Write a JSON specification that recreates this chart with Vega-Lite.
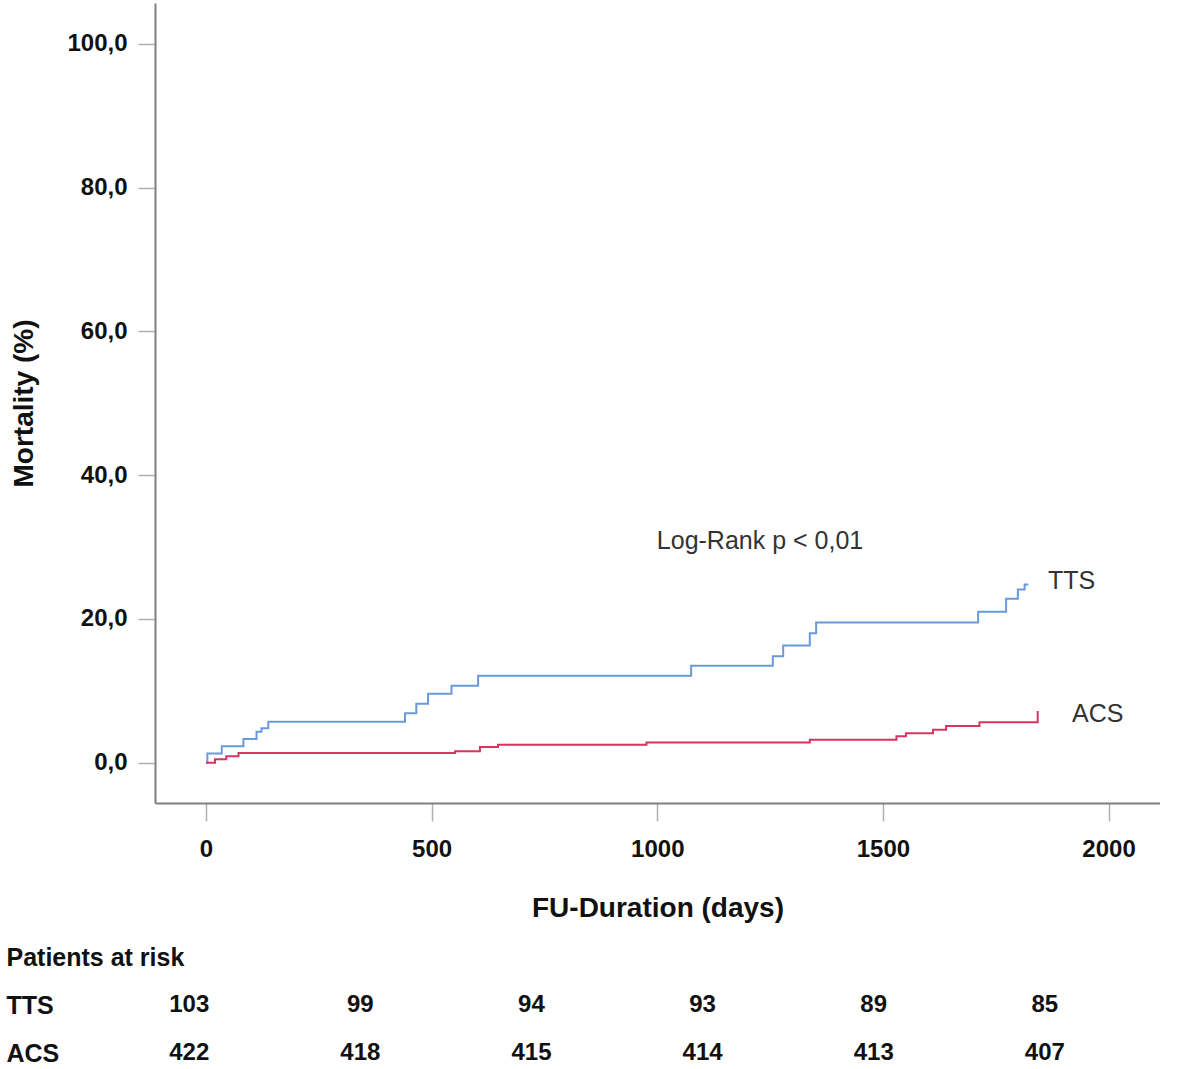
{
  "$schema": "https://vega.github.io/schema/vega-lite/v6.json",
  "padding": {"left": 6, "top": 3, "right": 0, "bottom": 0},
  "autosize": {"type": "pad"},
  "spacing": 11,
  "config": {
    "view": {"stroke": null},
    "font": "Liberation Sans",
    "locale": {"number": {"decimal": ",", "thousands": ".", "grouping": [3], "currency": ["", " €"]}},
    "axis": {
      "domainColor": "#808080",
      "domainWidth": 2,
      "tickColor": "#b0b0b0",
      "tickWidth": 1.5,
      "grid": false,
      "labelFont": "Liberation Sans",
      "labelFontWeight": "bold",
      "labelFontSize": 24,
      "labelColor": "#111111",
      "titleFont": "Liberation Sans",
      "titleFontWeight": "bold",
      "titleFontSize": 28,
      "titleColor": "#111111"
    }
  },
  "vconcat": [
    {
      "width": 1005,
      "height": 800,
      "layer": [
        {
          "data": {
            "values": [
              {"group": "TTS", "day": 0, "mortality": 0},
              {"group": "TTS", "day": 3, "mortality": 1.3},
              {"group": "TTS", "day": 35, "mortality": 2.3},
              {"group": "TTS", "day": 83, "mortality": 3.3},
              {"group": "TTS", "day": 112, "mortality": 4.3},
              {"group": "TTS", "day": 123, "mortality": 4.8},
              {"group": "TTS", "day": 138, "mortality": 5.7},
              {"group": "TTS", "day": 441, "mortality": 6.9},
              {"group": "TTS", "day": 466, "mortality": 8.2},
              {"group": "TTS", "day": 492, "mortality": 9.6},
              {"group": "TTS", "day": 544, "mortality": 10.7},
              {"group": "TTS", "day": 603, "mortality": 12.1},
              {"group": "TTS", "day": 1075, "mortality": 13.5},
              {"group": "TTS", "day": 1256, "mortality": 14.8},
              {"group": "TTS", "day": 1279, "mortality": 16.3},
              {"group": "TTS", "day": 1338, "mortality": 18.0},
              {"group": "TTS", "day": 1352, "mortality": 19.5},
              {"group": "TTS", "day": 1711, "mortality": 21.0},
              {"group": "TTS", "day": 1773, "mortality": 22.8},
              {"group": "TTS", "day": 1799, "mortality": 24.1},
              {"group": "TTS", "day": 1814, "mortality": 24.8},
              {"group": "TTS", "day": 1822, "mortality": 24.8},
              {"group": "ACS", "day": 0, "mortality": 0},
              {"group": "ACS", "day": 20, "mortality": 0.5},
              {"group": "ACS", "day": 45, "mortality": 0.9},
              {"group": "ACS", "day": 72, "mortality": 1.35},
              {"group": "ACS", "day": 552, "mortality": 1.6},
              {"group": "ACS", "day": 607, "mortality": 2.2},
              {"group": "ACS", "day": 647, "mortality": 2.5},
              {"group": "ACS", "day": 976, "mortality": 2.8},
              {"group": "ACS", "day": 1338, "mortality": 3.2},
              {"group": "ACS", "day": 1530, "mortality": 3.7},
              {"group": "ACS", "day": 1551, "mortality": 4.1},
              {"group": "ACS", "day": 1611, "mortality": 4.6},
              {"group": "ACS", "day": 1640, "mortality": 5.1},
              {"group": "ACS", "day": 1714, "mortality": 5.65},
              {"group": "ACS", "day": 1843, "mortality": 7.2}
            ]
          },
          "mark": {"type": "line", "interpolate": "step-after", "strokeWidth": 2},
          "encoding": {
            "x": {
              "field": "day",
              "type": "quantitative",
              "scale": {"domain": [-113, 2114], "nice": false, "zero": false},
              "axis": {
                "title": "FU-Duration (days)",
                "values": [0, 500, 1000, 1500, 2000],
                "format": "d",
                "tickSize": 18,
                "labelPadding": 16,
                "titlePadding": 33
              }
            },
            "y": {
              "field": "mortality",
              "type": "quantitative",
              "scale": {"domain": [-5.6, 105.7], "nice": false, "zero": false},
              "axis": {
                "title": "Mortality (%)",
                "values": [0, 20, 40, 60, 80, 100],
                "format": ".1f",
                "tickSize": 17,
                "labelPadding": 11,
                "titlePadding": 28
              }
            },
            "color": {
              "field": "group",
              "type": "nominal",
              "scale": {"domain": ["TTS", "ACS"], "range": ["#6a9ad9", "#d9335e"]},
              "legend": null
            }
          }
        },
        {
          "data": {
            "values": [
              {"day": 999, "mortality": 30.8, "label": "Log-Rank p < 0,01"},
              {"day": 1866, "mortality": 25.3, "label": "TTS"},
              {"day": 1919, "mortality": 6.8, "label": "ACS"}
            ]
          },
          "mark": {"type": "text", "fontSize": 25, "font": "Liberation Sans", "color": "#333333", "align": "left", "baseline": "middle"},
          "encoding": {
            "x": {"field": "day", "type": "quantitative"},
            "y": {"field": "mortality", "type": "quantitative"},
            "text": {"field": "label"}
          }
        }
      ]
    },
    {
      "width": 1005,
      "height": 144,
      "data": {
        "values": [
          {"row": "TTS", "year": 0, "n": 103},
          {"row": "TTS", "year": 1, "n": 99},
          {"row": "TTS", "year": 2, "n": 94},
          {"row": "TTS", "year": 3, "n": 93},
          {"row": "TTS", "year": 4, "n": 89},
          {"row": "TTS", "year": 5, "n": 85},
          {"row": "ACS", "year": 0, "n": 422},
          {"row": "ACS", "year": 1, "n": 418},
          {"row": "ACS", "year": 2, "n": 415},
          {"row": "ACS", "year": 3, "n": 414},
          {"row": "ACS", "year": 4, "n": 413},
          {"row": "ACS", "year": 5, "n": 407}
        ]
      },
      "mark": {"type": "text", "fontSize": 24, "fontWeight": "bold", "font": "Liberation Sans", "color": "#111111", "baseline": "middle"},
      "encoding": {
        "x": {
          "field": "year",
          "type": "quantitative",
          "scale": {"domain": [-0.2, 5.673], "nice": false, "zero": false},
          "axis": null
        },
        "y": {
          "field": "row",
          "type": "ordinal",
          "scale": {"domain": ["Patients at risk", "TTS", "ACS"], "type": "point", "padding": 0.5},
          "axis": {
            "title": null,
            "domain": false,
            "ticks": false,
            "tickSize": 0,
            "labelAlign": "left",
            "labelPadding": 149,
            "labelFontSize": 25
          }
        },
        "text": {"field": "n", "type": "quantitative"}
      }
    }
  ]
}
